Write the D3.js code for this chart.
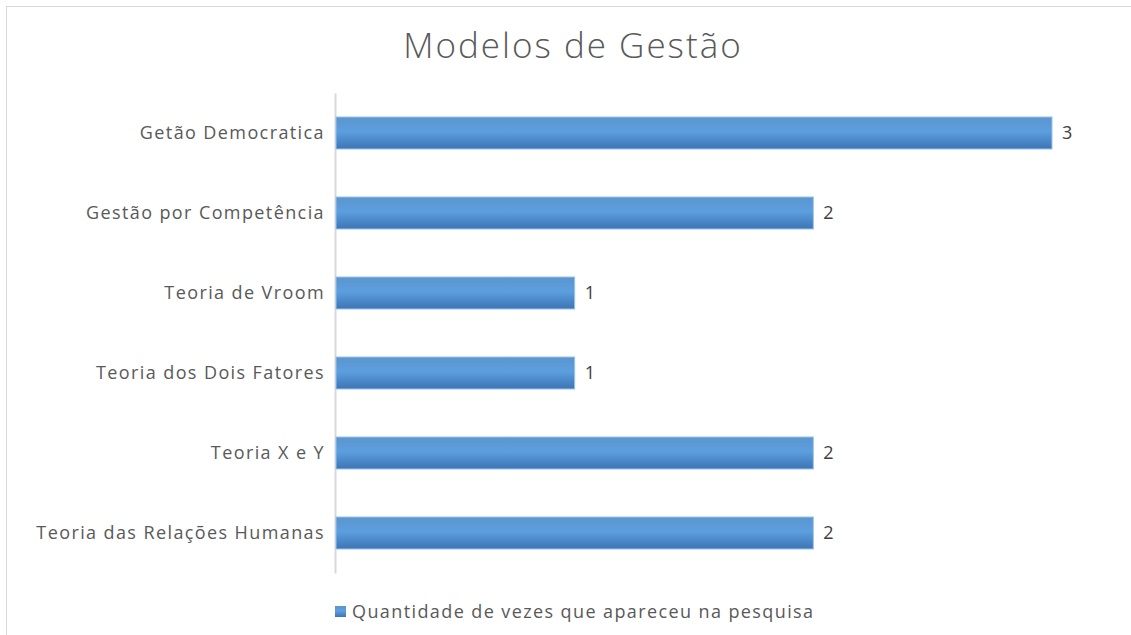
<!DOCTYPE html>
<html>
<head>
<meta charset="utf-8">
<script src="https://cdn.jsdelivr.net/npm/d3@7"></script>
<style>
  body { margin: 0; background: #fff; }
  text { font-family: "Open Sans", "DejaVu Sans", sans-serif; }
</style>
</head>
<body>
<div id="chart"></div>
<script>
const categories = [
    'Getão Democratica',
    'Gestão por Competência',
    'Teoria de Vroom',
    'Teoria dos Dois Fatores',
    'Teoria X e Y',
    'Teoria das Relações Humanas'
];
const values = [3, 2, 1, 1, 2, 2];
const series_name = 'Quantidade de vezes que apareceu na pesquisa';
const title = 'Modelos de Gestão';

const chart_width = 1131;
const chart_height = 635;
const plot_left = 336;
const plot_right = 1052;
const plot_top = 93;
const plot_bottom = 573;

const svg = d3.select('#chart')
    .append('svg')
    .attr('width', chart_width)
    .attr('height', chart_height);

// Gradient for bars
const grad = svg.append('defs')
    .append('linearGradient')
    .attr('id', 'bar_grad')
    .attr('x1', 0).attr('y1', 0).attr('x2', 0).attr('y2', 1);
grad.append('stop').attr('offset', '0%').attr('stop-color', '#5b95cd');
grad.append('stop').attr('offset', '45%').attr('stop-color', '#5c9fdf');
grad.append('stop').attr('offset', '100%').attr('stop-color', '#3d74b4');

// Chart border
svg.append('rect')
    .attr('x', 6.5)
    .attr('y', 6.5)
    .attr('width', chart_width + 10)
    .attr('height', chart_height + 10)
    .attr('fill', 'none')
    .attr('stroke', '#d9d9d9');

// Scales
const x_scale = d3.scaleLinear()
    .domain([0, d3.max(values)])
    .range([plot_left, plot_right]);

const y_scale = d3.scaleBand()
    .domain(categories)
    .range([plot_top, plot_bottom])
    .paddingInner(0.6)
    .paddingOuter(0.3);

// Title
svg.append('text')
    .attr('x', 573)
    .attr('y', 58)
    .attr('text-anchor', 'middle')
    .attr('font-size', 35)
    .attr('font-weight', 300)
    .attr('letter-spacing', 2)
    .attr('fill', '#595959')
    .text(title);

// Y axis
const y_axis = d3.axisLeft(y_scale).tickSize(0).tickPadding(10);
const gy = svg.append('g')
    .attr('transform', `translate(${plot_left - 1}, 0)`)
    .call(y_axis);
gy.select('.domain').attr('stroke', '#d9d9d9').attr('stroke-width', 2);
gy.selectAll('text')
    .attr('font-size', 18)
    .attr('letter-spacing', 1.4)
    .attr('fill', '#595959')
    .style('font-family', '"Open Sans", sans-serif');

// Bars
svg.append('g')
    .selectAll('rect')
    .data(values)
    .enter()
    .append('rect')
    .attr('x', x_scale(0))
    .attr('y', (d, i) => y_scale(categories[i]))
    .attr('width', d => x_scale(d) - x_scale(0))
    .attr('height', y_scale.bandwidth())
    .attr('fill', 'url(#bar_grad)')
    .attr('stroke', '#9cc3ea')
    .attr('stroke-width', 1);

// Value labels
svg.append('g')
    .selectAll('text')
    .data(values)
    .enter()
    .append('text')
    .text(d => d)
    .attr('x', d => x_scale(d) + 10)
    .attr('y', (d, i) => y_scale(categories[i]) + y_scale.bandwidth() / 2)
    .attr('dy', '0.35em')
    .attr('font-size', 18)
    .attr('fill', '#404040');

// Legend
const legend = svg.append('g').attr('transform', 'translate(335, 606)');
legend.append('rect')
    .attr('width', 11)
    .attr('height', 11)
    .attr('fill', 'url(#bar_grad)');
legend.append('text')
    .attr('x', 17)
    .attr('y', 12)
    .attr('font-size', 18)
    .attr('letter-spacing', 1.4)
    .attr('fill', '#595959')
    .text(series_name);
</script>
</body>
</html>
